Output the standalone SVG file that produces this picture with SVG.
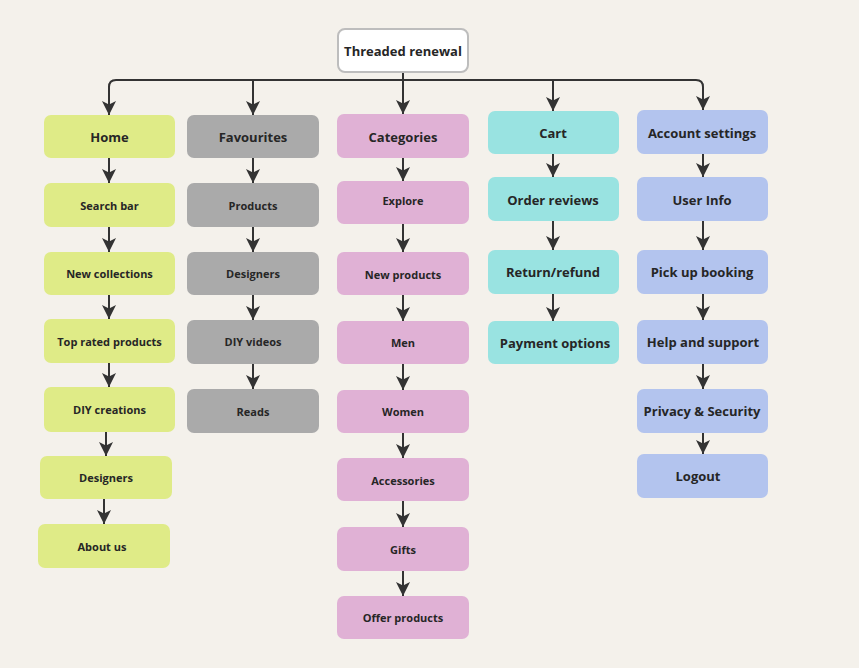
<svg xmlns="http://www.w3.org/2000/svg" width="859" height="668" viewBox="0 0 859 668">
<style>
.bg{fill:#f4f1eb}
.n rect{stroke:none}
.g rect{fill:#dfeb87}
.f rect{fill:#aaaaaa}
.p rect{fill:#e0b1d5}
.c rect{fill:#99e3e1}
.b rect{fill:#b3c4ee}
text{font-family:"Open Sans","Noto Sans","Liberation Sans",sans-serif;font-weight:700;fill:#262626;text-anchor:middle;dominant-baseline:central}
.L{font-size:13px}
.S{font-size:11px}
.conn path{fill:none;stroke:#333;stroke-width:2;marker-end:url(#ah)}
</style>
<defs>
<marker id="ah" viewBox="0 0 12 12" markerWidth="14" markerHeight="14" refX="12" refY="6" orient="auto" markerUnits="userSpaceOnUse">
<path d="M0,0 L12,6 L0,12 L3,6 z" fill="#333"/>
</marker>
</defs>
<rect class="bg" x="0" y="0" width="859" height="668"/>

<g id="conns" class="conn">
<path d="M403,72 V114"/>
<path d="M403,80 H116 Q109,80 109,87 V115"/>
<path d="M253,80 V115"/>
<path d="M403,80 H696 Q703,80 703,87 V110"/>
<path d="M553,80 V111"/>
<path d="M109,158 V183"/>
<path d="M109,227 V252"/>
<path d="M109,295 V319"/>
<path d="M109,363 V387"/>
<path d="M106,432 V456"/>
<path d="M104,499 V524"/>
<path d="M253,158 V183"/>
<path d="M253,227 V252"/>
<path d="M253,295 V320"/>
<path d="M253,364 V389"/>
<path d="M403,158 V181"/>
<path d="M403,224 V252"/>
<path d="M403,295 V321"/>
<path d="M403,364 V390"/>
<path d="M403,433 V458"/>
<path d="M403,501 V527"/>
<path d="M403,571 V596"/>
<path d="M553,154 V177"/>
<path d="M553,221 V250"/>
<path d="M553,294 V321"/>
<path d="M703,154 V177"/>
<path d="M703,221 V250"/>
<path d="M703,294 V320"/>
<path d="M703,364 V389"/>
<path d="M703,433 V454"/>
</g>

<g id="root"><rect x="338" y="29" width="130" height="43" rx="7" fill="#ffffff" stroke="#bdbdbd" stroke-width="2"/><text class="L" x="403" y="50.5">Threaded renewal</text></g>

<g id="home" class="n g"><rect x="44" y="115" width="131" height="43" rx="7"/><text class="L" x="109.5" y="136.5">Home</text></g>
<g id="searchbar" class="n g"><rect x="44" y="183" width="131" height="44" rx="7"/><text class="S" x="109.5" y="205">Search bar</text></g>
<g id="newcollections" class="n g"><rect x="44" y="252" width="131" height="43" rx="7"/><text class="S" x="109.5" y="273.5">New collections</text></g>
<g id="toprated" class="n g"><rect x="44" y="319" width="131" height="44" rx="7"/><text class="S" x="109.5" y="341">Top rated products</text></g>
<g id="diycreations" class="n g"><rect x="44" y="387" width="131" height="45" rx="7"/><text class="S" x="109.5" y="409.5">DIY creations</text></g>
<g id="designers1" class="n g"><rect x="40" y="456" width="132" height="43" rx="7"/><text class="S" x="106" y="477.5">Designers</text></g>
<g id="aboutus" class="n g"><rect x="38" y="524" width="132" height="44" rx="7"/><text class="S" x="102" y="546">About us</text></g>

<g id="favourites" class="n f"><rect x="187" y="115" width="132" height="43" rx="7"/><text class="L" x="253" y="136.5">Favourites</text></g>
<g id="products" class="n f"><rect x="187" y="183" width="132" height="44" rx="7"/><text class="S" x="253" y="205">Products</text></g>
<g id="designers2" class="n f"><rect x="187" y="252" width="132" height="43" rx="7"/><text class="S" x="253" y="273.5">Designers</text></g>
<g id="diyvideos" class="n f"><rect x="187" y="320" width="132" height="44" rx="7"/><text class="S" x="253" y="341">DIY videos</text></g>
<g id="reads" class="n f"><rect x="187" y="389" width="132" height="44" rx="7"/><text class="S" x="253" y="411">Reads</text></g>

<g id="categories" class="n p"><rect x="337" y="114" width="132" height="44" rx="7"/><text class="L" x="403" y="136.5">Categories</text></g>
<g id="explore" class="n p"><rect x="337" y="181" width="132" height="43" rx="7"/><text class="S" x="403" y="200">Explore</text></g>
<g id="newproducts" class="n p"><rect x="337" y="252" width="132" height="43" rx="7"/><text class="S" x="403" y="274">New products</text></g>
<g id="men" class="n p"><rect x="337" y="321" width="132" height="43" rx="7"/><text class="S" x="403" y="342.5">Men</text></g>
<g id="women" class="n p"><rect x="337" y="390" width="132" height="43" rx="7"/><text class="S" x="403" y="411.5">Women</text></g>
<g id="accessories" class="n p"><rect x="337" y="458" width="132" height="43" rx="7"/><text class="S" x="403" y="480">Accessories</text></g>
<g id="gifts" class="n p"><rect x="337" y="527" width="132" height="44" rx="7"/><text class="S" x="403" y="549">Gifts</text></g>
<g id="offerproducts" class="n p"><rect x="337" y="596" width="132" height="43" rx="7"/><text class="S" x="403" y="617.5">Offer products</text></g>

<g id="cart" class="n c"><rect x="488" y="111" width="131" height="43" rx="7"/><text class="L" x="553" y="132.5">Cart</text></g>
<g id="orderreviews" class="n c"><rect x="488" y="177" width="131" height="44" rx="7"/><text class="L" x="553" y="199.5">Order reviews</text></g>
<g id="returnrefund" class="n c"><rect x="488" y="250" width="131" height="44" rx="7"/><text class="L" x="553" y="272">Return/refund</text></g>
<g id="paymentoptions" class="n c"><rect x="488" y="321" width="131" height="43" rx="7"/><text class="L" x="555" y="342.5">Payment options</text></g>

<g id="accountsettings" class="n b"><rect x="637" y="110" width="131" height="44" rx="7"/><text class="L" x="702" y="132.5">Account settings</text></g>
<g id="userinfo" class="n b"><rect x="637" y="177" width="131" height="44" rx="7"/><text class="L" x="702" y="199.5">User Info</text></g>
<g id="pickup" class="n b"><rect x="637" y="250" width="131" height="44" rx="7"/><text class="L" x="702" y="272">Pick up booking</text></g>
<g id="help" class="n b"><rect x="637" y="320" width="131" height="44" rx="7"/><text class="L" x="703" y="342">Help and support</text></g>
<g id="privacy" class="n b"><rect x="637" y="389" width="131" height="44" rx="7"/><text class="L" x="702" y="411">Privacy &amp; Security</text></g>
<g id="logout" class="n b"><rect x="637" y="454" width="131" height="44" rx="7"/><text class="L" x="698" y="476">Logout</text></g>
</svg>
